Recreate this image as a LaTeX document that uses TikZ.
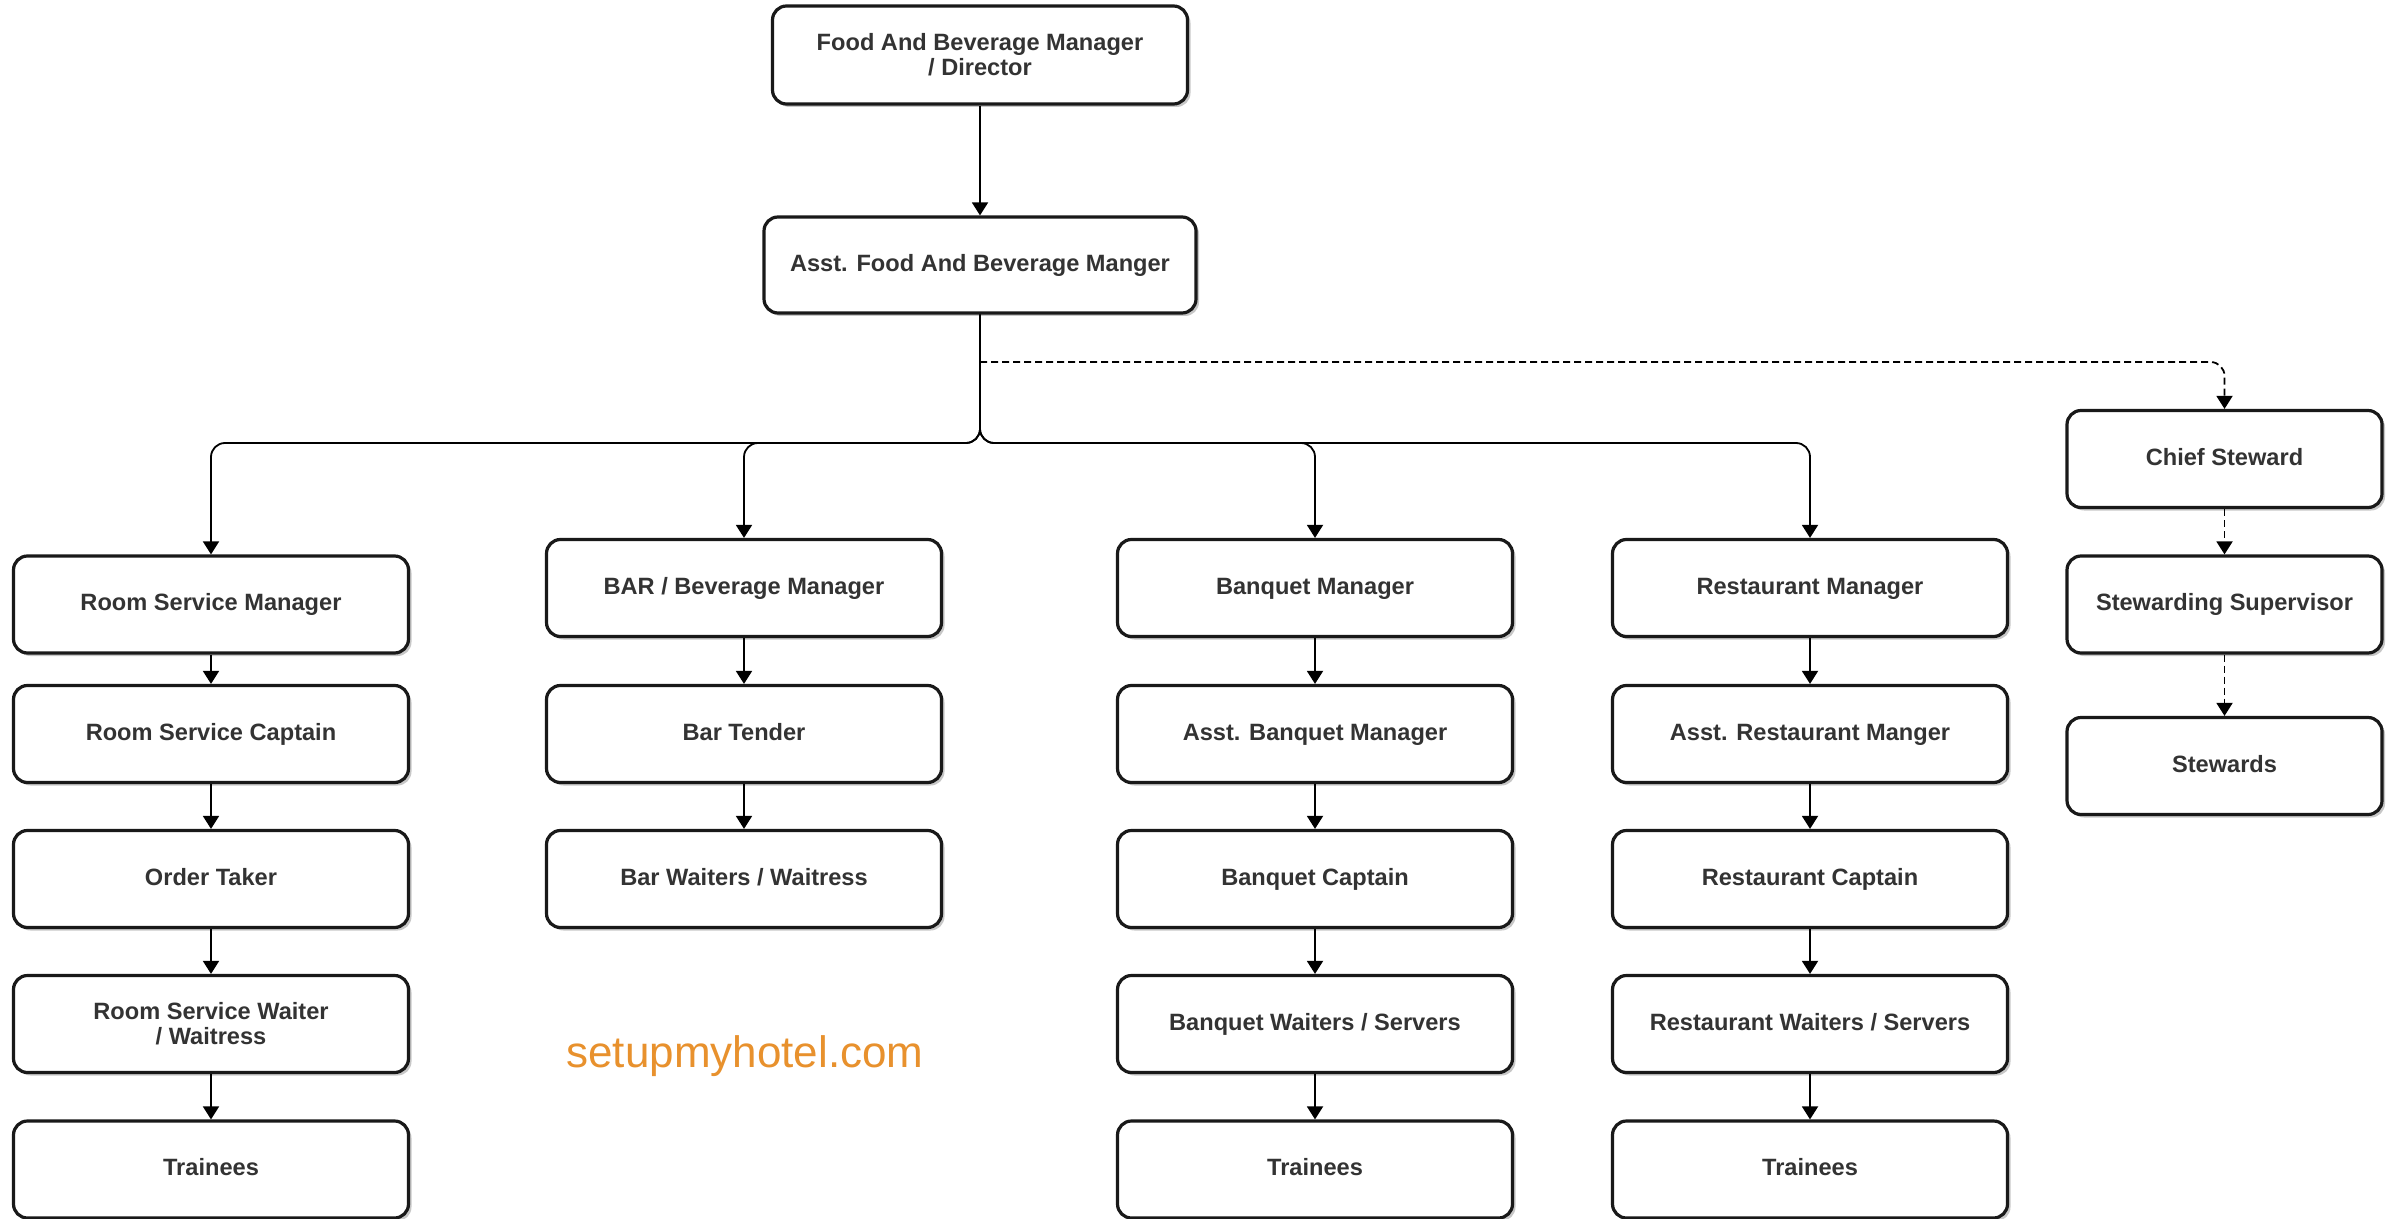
\documentclass[tikz,border=0pt]{standalone}
\usepackage{fontspec}
\setmainfont{Liberation Sans}
\usetikzlibrary{arrows.meta,shadows}
\definecolor{txtc}{HTML}{333333}
\definecolor{wmc}{HTML}{E8912D}
\tikzset{
 box/.style={draw=black!90, line width=1.6pt, rounded corners=7pt, fill=white, align=center, text=txtc,
   font=\bfseries\fontsize{11.8}{12.6}\selectfont, minimum height=48.5pt, inner sep=0pt,
   text height=8.6pt, text depth=2.4pt,
   drop shadow={shadow xshift=1.5pt, shadow yshift=-1.5pt, opacity=0.22, fill=black}},
 twoline/.style={text height={}, text depth={}},
 wbox/.style={box, minimum width=197.5pt},
 nbox/.style={box, minimum width=157.5pt},
 conn/.style={line width=0.9pt, -{Triangle[width=8pt,length=6.5pt]}},
 dconn/.style={conn, dash pattern=on 3.5pt off 2pt},
 wmark/.style={text=wmc, font=\fontsize{22}{24}\selectfont, inner sep=0pt},
}
\begin{document}
\begin{tikzpicture}[x=0.5pt,y=-0.5pt]
\useasboundingbox[fill=white] (0,0) rectangle (2397,1219);
% top
\node[box, twoline, minimum width=207.5pt, minimum height=49pt] (fb) at (980,55) {Food And Beverage Manager\\/ Director};
\node[box, minimum width=216pt, minimum height=48pt] (asst) at (980,265) {Asst. Food And Beverage Manger};
% column 1
\node[wbox] (rsm) at (211,604.5) {Room Service Manager};
\node[wbox] (rsc) at (211,734) {Room Service Captain};
\node[wbox] (ot) at (211,879) {Order Taker};
\node[wbox, twoline] (rsw) at (211,1024) {Room Service Waiter\\/ Waitress};
\node[wbox] (rst) at (211,1169.5) {Trainees};
% column 2
\node[wbox] (bar) at (744,588) {BAR / Beverage Manager};
\node[wbox] (bt) at (744,734) {Bar Tender};
\node[wbox] (bw) at (744,879) {Bar Waiters / Waitress};
% column 3
\node[wbox] (bm) at (1315,588) {Banquet Manager};
\node[wbox] (abm) at (1315,734) {Asst. Banquet Manager};
\node[wbox] (bc) at (1315,879) {Banquet Captain};
\node[wbox] (bws) at (1315,1024) {Banquet Waiters / Servers};
\node[wbox] (bqt) at (1315,1169.5) {Trainees};
% column 4
\node[wbox] (rm) at (1810,588) {Restaurant Manager};
\node[wbox] (arm) at (1810,734) {Asst. Restaurant Manger};
\node[wbox] (rc) at (1810,879) {Restaurant Captain};
\node[wbox] (rws) at (1810,1024) {Restaurant Waiters / Servers};
\node[wbox] (rt) at (1810,1169.5) {Trainees};
% column 5
\node[nbox] (cs) at (2224.5,459) {Chief Steward};
\node[nbox] (ss) at (2224.5,604.5) {Stewarding Supervisor};
\node[nbox] (st) at (2224.5,766) {Stewards};
% watermark
\node[wmark] (wm) at (745,1056) {setupmyhotel.com};
% connectors
\coordinate (bus) at (980,443);
\coordinate (dsplit) at (980,362);
\draw[conn] (fb) -- (asst);
\draw[conn, rounded corners=7pt] (asst.south) -- (bus) -| (rsm.north);
\draw[conn, rounded corners=7pt] (asst.south) -- (bus) -| (bar.north);
\draw[conn, rounded corners=7pt] (asst.south) -- (bus) -| (bm.north);
\draw[conn, rounded corners=7pt] (asst.south) -- (bus) -| (rm.north);
\draw[dconn, rounded corners=7pt] (dsplit) -| (cs.north);
\draw[conn] (rsm) -- (rsc);
\draw[conn] (rsc) -- (ot);
\draw[conn] (ot) -- (rsw);
\draw[conn] (rsw) -- (rst);
\draw[conn] (bar) -- (bt);
\draw[conn] (bt) -- (bw);
\draw[conn] (bm) -- (abm);
\draw[conn] (abm) -- (bc);
\draw[conn] (bc) -- (bws);
\draw[conn] (bws) -- (bqt);
\draw[conn] (rm) -- (arm);
\draw[conn] (arm) -- (rc);
\draw[conn] (rc) -- (rws);
\draw[conn] (rws) -- (rt);
\draw[dconn] (cs) -- (ss);
\draw[dconn] (ss) -- (st);
\end{tikzpicture}
\end{document}
